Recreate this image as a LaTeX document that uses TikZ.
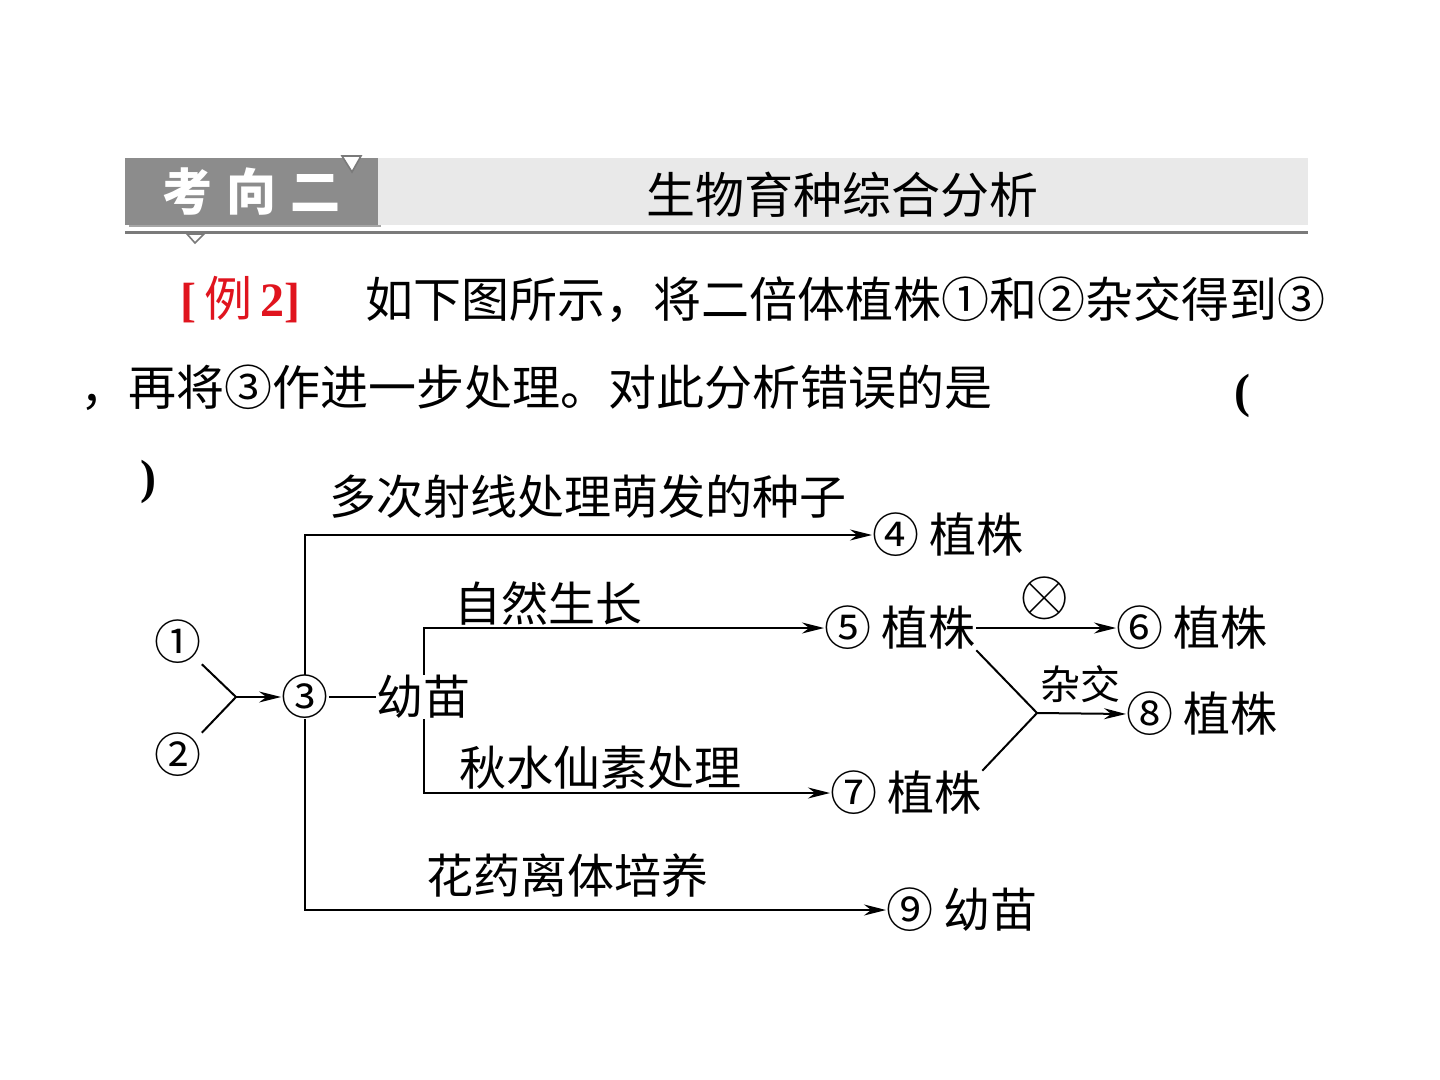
\documentclass[tikz,border=0pt]{standalone}
\usepackage{fontspec}
\setmainfont{Liberation Serif}
\newfontfamily\cjk{Noto Sans CJK SC}
\usetikzlibrary{arrows.meta}
\definecolor{hdark}{HTML}{8C8C8C}
\definecolor{hlight}{HTML}{E9E9E9}
\definecolor{hline}{HTML}{7A7A7A}
\definecolor{exred}{HTML}{E0141E}
\begin{document}
\begin{tikzpicture}[x=0.5pt,y=-0.5pt,
  lbl/.style={font=\cjk\fontsize{23.5pt}{28pt}\selectfont, inner sep=0pt},
  body/.style={font=\cjk\fontsize{24pt}{28pt}\selectfont, inner sep=0pt},
  ln/.style={line width=1pt},
  arr/.style={ln,-{Stealth[length=11pt,width=5.5pt]}}]
\useasboundingbox (0,0) rectangle (1440,1080);
\fill[white] (0,0) rectangle (1440,1080);
% header
\fill[black!35] (129,162) rectangle (381,227);
\fill[hdark] (125,158) rectangle (378,225);
\fill[hlight] (378,158) rectangle (1308,225);
\filldraw[fill=white,draw=hline,line width=0.8pt] (342,156) -- (361,156) -- (352,172) -- cycle;
\draw[hline,line width=1.5pt] (125,233) -- (1308,233);
\filldraw[fill=white,draw=hline,line width=0.8pt] (187,234) -- (204,234) -- (195,243) -- cycle;
\node[font=\cjk\bfseries\fontsize{25pt}{28pt}\selectfont,text=white,inner sep=0pt] (kx) at (251,192) {考\hspace{7pt}向\hspace{7pt}二};
\node[font=\cjk\fontsize{24.5pt}{28pt}\selectfont,inner sep=0pt] (tt) at (842,195) {生物育种综合分析};
% question text
\node[font=\fontsize{24pt}{28pt}\selectfont,text=exred,inner sep=0pt,anchor=west] (ex) at (180,300) {\textbf{[}\,{\cjk 例}\,\textbf{2]}};
\node[body,anchor=west] (q1) at (365,300) {如下图所示，将二倍体植株①和②杂交得到③};
\node[body,anchor=west] (q2) at (80,388) {，再将③作进一步处理。对此分析错误的是};
\node[font=\bfseries\fontsize{24pt}{28pt}\selectfont,inner sep=0pt] (lp) at (1242,396) {(};
\node[font=\bfseries\fontsize{24pt}{28pt}\selectfont,inner sep=0pt] (rp) at (148,482) {)};
% diagram nodes
\node[lbl] (n1) at (178,642) {①};
\node[lbl] (n2) at (178,755) {②};
\node[lbl] (n3) at (305,697) {③};
\node[lbl] (ym) at (423,697) {幼苗};
\node[lbl,anchor=west] (n4) at (872,535) {④ 植株};
\node[lbl,anchor=west] (n5) at (824,628) {⑤ 植株};
\node[lbl,anchor=west] (n6) at (1116,628) {⑥ 植株};
\node[lbl,anchor=west] (n7) at (830,793) {⑦ 植株};
\node[lbl,anchor=west] (n8) at (1126,714) {⑧ 植株};
\node[lbl,anchor=west] (n9) at (886,910) {⑨ 幼苗};
% labels
\node[lbl] (l1) at (588,497) {多次射线处理萌发的种子};
\node[lbl] (l2) at (548,603) {自然生长};
\node[lbl] (l3) at (600,768) {秋水仙素处理};
\node[lbl] (l4) at (567,876) {花药离体培养};
\node[font=\fontsize{24pt}{28pt}\selectfont,inner sep=0pt] (l5) at (1045,598) {\scalebox{1.3}{$\otimes$}};
\node[font=\cjk\fontsize{20pt}{24pt}\selectfont,inner sep=0pt] (l6) at (1080,684) {杂交};
% connectors
\coordinate (jm) at (236,697);
\coordinate (jx) at (424,697);
\coordinate (jc) at (1037,713);
\draw[ln] (n1.south east) -- (jm) -- (n2.north east);
\draw[arr] (jm) -- (n3.west);
\draw[ln] (n3.east) -- (ym.west);
\draw[arr] (n3.north) |- (n4.west);
\draw[arr] (n3.south) |- (n9.west);
\draw[arr] (ym.north -| jx) |- (n5.west);
\draw[arr] (ym.south -| jx) |- (n7.west);
\draw[arr] (n5.east) -- (n6.west);
\draw[ln] (n5.south east) -- (jc) -- (n7.north east);
\draw[arr] (jc) -- (n8.west);
\end{tikzpicture}
\end{document}
